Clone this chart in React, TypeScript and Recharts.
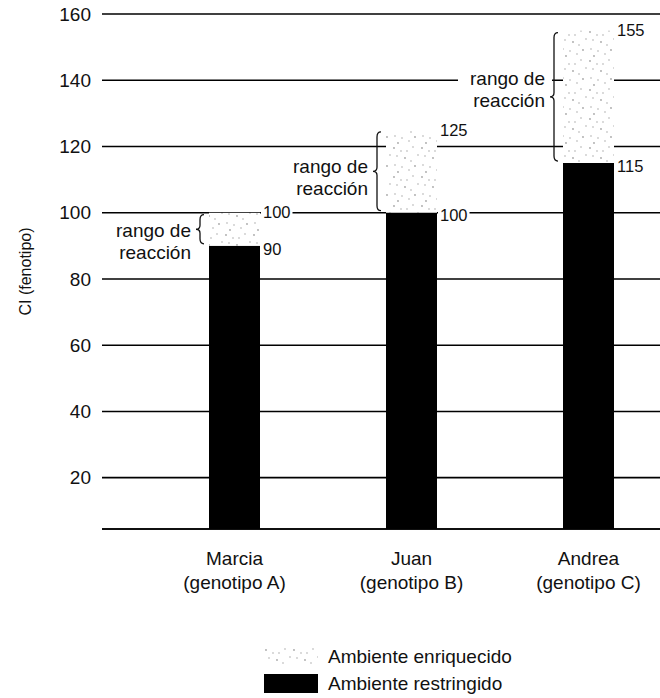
import React from 'react'
import { BarChart, Bar, XAxis, YAxis, CartesianGrid, Legend, LabelList } from 'recharts'

const personas = ['Marcia', 'Juan', 'Andrea']
const genotipos = ['(genotipo A)', '(genotipo B)', '(genotipo C)']
const ambienteRestringido = [90, 100, 115]
const ambienteEnriquecido = [100, 125, 155]
const ticksCI = [20, 40, 60, 80, 100, 120, 140, 160]
const leyenda = ['Ambiente enriquecido', 'Ambiente restringido']
const textoRango = ['rango de', 'reacción']

// ajuste vertical del texto "rango de reacción" respecto al centro de la llave
const ajusteTexto = [8, 2, -12]

const data = personas.map((nombre, i) => ({
  nombre,
  restringido: ambienteRestringido[i],
  rango: ambienteEnriquecido[i] - ambienteRestringido[i],
}))

const FONT = "'Liberation Sans', Arial, Helvetica, sans-serif"
const TINTA = '#111'

// puntos fijos del patrón punteado (tipo trama de imprenta)
const puntos = [
  [2, 3], [15, 6], [21, 2], [5, 11], [13, 13], [19, 16], [3, 20],
  [10, 22], [23, 21], [9, 6], [17, 25], [26, 10], [6, 27],
]

function Punteado({ id }: { id: string }) {
  return (
    <pattern id={id} width="28" height="29" patternUnits="userSpaceOnUse">
      <rect width="28" height="29" fill="#fff" />
      {puntos.map(([cx, cy], k) => (
        <circle key={k} cx={cx} cy={cy} r={0.65} fill={k % 4 === 0 ? '#555' : '#999'} />
      ))}
    </pattern>
  )
}

function indiceDe(props: any, campo: 'rango' | 'restringido') {
  if (typeof props.index === 'number') return props.index
  return data.findIndex((d) => d[campo] === props.value)
}

function cajaDe(props: any) {
  const vb = props.viewBox ?? props
  const top = Math.min(vb.y, vb.y + vb.height)
  const bottom = Math.max(vb.y, vb.y + vb.height)
  return { x: vb.x, width: vb.width, top, bottom }
}

function ValorConFondo({ x, y, texto }: { x: number; y: number; texto: string }) {
  return (
    <g>
      <rect x={x - 2} y={y - 9} width={texto.length * 9.5 + 3} height={18} fill="#fff" />
      <text x={x} y={y} dy="0.35em" fontSize={16.5} fill={TINTA}>
        {texto}
      </text>
    </g>
  )
}

function AnotacionRango(props: any) {
  const i = indiceDe(props, 'rango')
  const { x, width, top, bottom } = cajaDe(props)
  const bx = x - 9
  const t = top + 2
  const b = bottom - 2
  const m = (t + b) / 2
  const brace = `M ${bx + 4} ${t} Q ${bx} ${t} ${bx} ${t + 5} L ${bx} ${m - 4} Q ${bx} ${m} ${bx - 4} ${m} Q ${bx} ${m} ${bx} ${m + 4} L ${bx} ${b - 5} Q ${bx} ${b} ${bx + 4} ${b}`
  const linea1 = m + (ajusteTexto[i] ?? 0)
  return (
    <g>
      <rect x={bx - 96} y={linea1 - 17} width={94} height={46} fill="#fff" />
      <path d={brace} fill="none" stroke={TINTA} strokeWidth={1.3} />
      {textoRango.map((t2, k) => (
        <text key={k} x={bx - 9} y={linea1 + k * 22} textAnchor="end" fontSize={19} fill={TINTA}>
          {t2}
        </text>
      ))}
      <ValorConFondo x={x + width + 3} y={top} texto={String(ambienteEnriquecido[i])} />
    </g>
  )
}

function EtiquetaRestringido(props: any) {
  const i = indiceDe(props, 'restringido')
  const { x, width, top } = cajaDe(props)
  return <ValorConFondo x={x + width + 3} y={top + 3} texto={String(ambienteRestringido[i])} />
}

function TickPersona(props: any) {
  const { x, y, payload } = props
  const i = personas.indexOf(payload.value)
  return (
    <g transform={`translate(${x},${y})`}>
      <text textAnchor="middle" y={36} fontSize={19} fill={TINTA}>
        {payload.value}
      </text>
      <text textAnchor="middle" y={60} fontSize={19} fill={TINTA}>
        {genotipos[i]}
      </text>
    </g>
  )
}

function LeyendaAmbientes() {
  const muestras = ['url(#punteado-leyenda)', '#000']
  return (
    <div style={{ fontFamily: FONT, color: TINTA }}>
      {leyenda.map((txt, k) => (
        <div key={txt} style={{ display: 'flex', alignItems: 'center', height: 27 }}>
          <svg width={54} height={19} style={{ display: 'block' }}>
            {k === 0 && (
              <defs>
                <Punteado id="punteado-leyenda" />
              </defs>
            )}
            <rect width={54} height={19} fill={muestras[k]} />
          </svg>
          <span style={{ marginLeft: 10, fontSize: 19 }}>{txt}</span>
        </div>
      ))}
    </div>
  )
}

export default function App() {
  return (
    <div
      style={{
        position: 'absolute',
        left: 0,
        top: 0,
        width: 660,
        height: 698,
        overflow: 'hidden',
        background: '#fff',
        fontFamily: FONT,
      }}
    >
      <BarChart
        width={680}
        height={698}
        data={data}
        margin={{ top: 14, right: 3, bottom: 0, left: 0 }}
        barSize={51}
      >
        <defs>
          <Punteado id="punteado" />
        </defs>
        <CartesianGrid vertical={false} stroke="#000" strokeWidth={1.6} />
        <XAxis
          dataKey="nombre"
          height={169}
          padding={{ left: 44, right: 0 }}
          tickLine={false}
          tickSize={0}
          tickMargin={0}
          interval={0}
          axisLine={{ stroke: '#000', strokeWidth: 1.6 }}
          tick={<TickPersona />}
        />
        <YAxis
          width={102}
          domain={[4.5, 160]}
          allowDataOverflow
          ticks={ticksCI}
          interval={0}
          axisLine={false}
          tickLine={false}
          tickSize={0}
          tickMargin={11}
          tick={{ fontSize: 19, fill: TINTA }}
          label={{
            value: 'CI (fenotipo)',
            angle: -90,
            position: 'insideLeft',
            offset: 25,
            style: { textAnchor: 'middle', fontSize: 16, fill: TINTA },
          }}
        />
        <Legend
          layout="horizontal"
          verticalAlign="middle"
          align="center"
          wrapperStyle={{ left: 264, top: 643, width: 320, height: 54 }}
          content={() => <LeyendaAmbientes />}
        />
        <Bar dataKey="restringido" stackId="a" fill="#000" isAnimationActive={false}>
          <LabelList dataKey="restringido" content={<EtiquetaRestringido />} />
        </Bar>
        <Bar dataKey="rango" stackId="a" fill="url(#punteado)" isAnimationActive={false}>
          <LabelList dataKey="rango" content={<AnotacionRango />} />
        </Bar>
      </BarChart>
    </div>
  )
}
